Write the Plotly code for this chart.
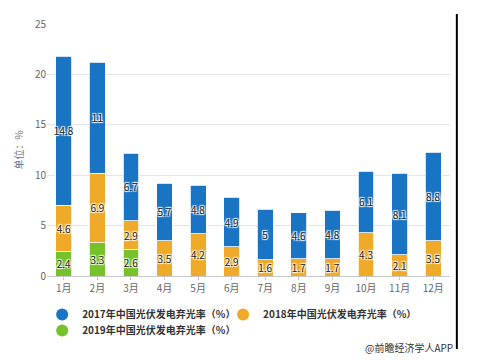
import plotly.graph_objects as go

months = ["1月", "2月", "3月", "4月", "5月", "6月", "7月", "8月", "9月", "10月", "11月", "12月"]
v2019 = [2.4, 3.3, 2.6, None, None, None, None, None, None, None, None, None]
v2018 = [4.6, 6.9, 2.9, 3.5, 4.2, 2.9, 1.6, 1.7, 1.7, 4.3, 2.1, 3.5]
v2017 = [14.8, 11, 6.7, 5.7, 4.8, 4.9, 5, 4.6, 4.8, 6.1, 8.1, 8.8]
names = ["2017年中国光伏发电弃光率（%）", "2018年中国光伏发电弃光率（%）", "2019年中国光伏发电弃光率（%）"]
colors = {"2017": "#1A74C4", "2018": "#F0AA2A", "2019": "#77C22A"}
yticks = [0, 5, 10, 15, 20, 25]

FONT = "Noto Sans CJK SC"
fig = go.Figure()
halo = "-1px -1px 1px #fff, 1px 1px 1px #fff, 1px -1px 1px #fff, -1px 1px 1px #fff"
label_font = dict(family=FONT, size=10, color="#222", shadow=halo)

for vals, key in [(v2019, "2019"), (v2018, "2018"), (v2017, "2017")]:
    fig.add_trace(go.Bar(
        x=months, y=vals, marker=dict(color=colors[key], line=dict(width=0.8, color="white")),
        text=[("" if v is None else f"{v:g}") for v in vals],
        textposition="inside", insidetextanchor="middle", textangle=0,
        textfont=label_font, constraintext="none",
        showlegend=False, hoverinfo="skip",
    ))

legend_ids = ["legend", "legend2", "legend3"]
for key, nm, lg in zip(["2017", "2018", "2019"], names, legend_ids):
    fig.add_trace(go.Scatter(
        x=[None], y=[None], mode="markers", name=nm, legend=lg,
        marker=dict(symbol="circle", size=9, color=colors[key]),
    ))

legend_font = dict(family=FONT, size=10, color="#333", weight="bold")
def leg(x, y):
    return dict(orientation="h", x=x, y=y, xanchor="left", yanchor="top",
                itemsizing="constant", font=legend_font, bgcolor="rgba(0,0,0,0)")

# page body has an 8px margin, so the figure is sized/offset to compensate
fig.update_layout(
    width=475, height=352,
    margin=dict(l=39, r=33, t=16, b=84, autoexpand=False),
    barmode="stack", bargap=0.53,
    plot_bgcolor="white", paper_bgcolor="white",
    font=dict(family=FONT, size=10, color="#666"),
    xaxis=dict(
        type="category", showgrid=False, showline=True, linecolor="#c8c8c8", linewidth=1,
        ticks="outside", ticklen=3, tickcolor="#c8c8c8",
        tickfont=dict(family=FONT, size=10, color="#666"),
    ),
    yaxis=dict(
        range=[0, 25], tickvals=yticks, showgrid=True, gridcolor="#e4e4e4", gridwidth=1,
        zeroline=False, showline=False, ticks="",
        tickfont=dict(family=FONT, size=10, color="#666"),
        title=dict(text="单位：%", font=dict(family=FONT, size=10, color="#777"), standoff=9),
    ),
    legend=leg(-0.012, -0.095),
    legend2=leg(0.437, -0.095),
    legend3=leg(-0.012, -0.1585),
    shapes=[dict(type="line", xref="paper", yref="paper", x0=1.017, x1=1.017,
                 y0=1.04, y1=-0.29,
                 line=dict(color="black", width=2))],
    annotations=[dict(text="@前瞻经济学人APP", xref="paper", yref="paper",
                      x=1.012, y=-0.282, xanchor="right", yanchor="middle", showarrow=False,
                      font=dict(family=FONT, size=10, color="#333"))],
)

fig.write_html("out.html")
